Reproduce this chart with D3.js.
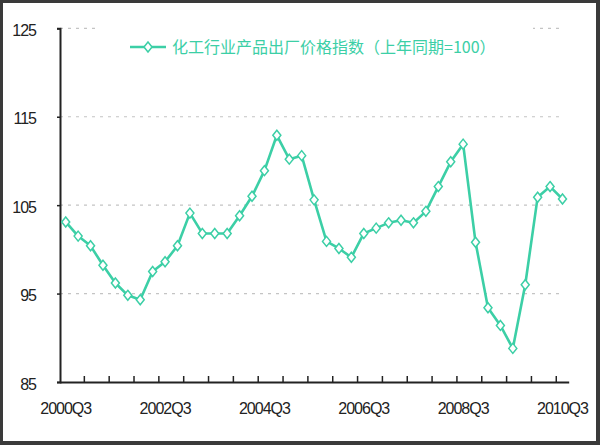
<!DOCTYPE html>
<html><head><meta charset="utf-8">
<script src="https://cdn.jsdelivr.net/npm/d3@7"></script>
<style>
html,body{margin:0;padding:0;background:#fff;}
svg{display:block;}
</style></head>
<body>
<svg id="chart" width="600" height="445"></svg>
<script>
// ---- data ----
const categories = [
 "2000Q3","2000Q4","2001Q1","2001Q2","2001Q3","2001Q4","2002Q1","2002Q2","2002Q3","2002Q4",
 "2003Q1","2003Q2","2003Q3","2003Q4","2004Q1","2004Q2","2004Q3","2004Q4","2005Q1","2005Q2",
 "2005Q3","2005Q4","2006Q1","2006Q2","2006Q3","2006Q4","2007Q1","2007Q2","2007Q3","2007Q4",
 "2008Q1","2008Q2","2008Q3","2008Q4","2009Q1","2009Q2","2009Q3","2009Q4","2010Q1","2010Q2","2010Q3"
];
const values = [
 103.1,101.5,100.4,98.2,96.2,94.8,94.3,97.5,98.6,100.4,
 104.1,101.8,101.8,101.8,103.8,106.0,108.9,112.9,110.2,110.6,
 105.6,100.9,100.1,99.1,101.8,102.4,103.0,103.3,103.0,104.3,
 107.1,109.9,111.9,100.8,93.4,91.4,88.8,96.0,105.9,107.1,105.7
];
const xTickLabels = ["2000Q3","2002Q3","2004Q3","2006Q3","2008Q3","2010Q3"];
const yTicks = [85,95,105,115,125];
const seriesName = "化工行业产品出厂价格指数（上年同期=100）";

// ---- styling ----
const color = "#3ccfa6";
const svg = d3.select("#chart");
const W = 600, H = 445;

svg.append("rect").attr("x",0).attr("y",0).attr("width",W).attr("height",H).attr("fill","#3a3a3a");
svg.append("rect").attr("x",3).attr("y",3).attr("width",593).attr("height",438).attr("fill","#fff");

const x = d3.scaleBand().domain(categories).range([59.5, 568.7]).padding(0);
const y = d3.scaleLinear().domain([85,125]).range([382,28.3]);
const axisX = 60;

// gridlines
svg.append("g").selectAll("line").data(yTicks.filter(v=>v>85)).join("line")
  .attr("x1", axisX).attr("x2", 562)
  .attr("y1", d=>y(d)).attr("y2", d=>y(d))
  .attr("stroke","#c4c4c4").attr("stroke-width",1.2).attr("stroke-dasharray","3,5");

// legend background box (covers top gridline)
svg.append("rect").attr("x",97).attr("y",20).attr("width",436).attr("height",52).attr("fill","#fff");

// y axis
const yAxis = svg.append("g").attr("transform",`translate(${axisX},0)`)
  .call(d3.axisLeft(y).tickValues(yTicks).tickSize(3).tickPadding(21).tickFormat(d3.format("d")));
yAxis.select(".domain").attr("stroke","#222").attr("stroke-width",2);
yAxis.selectAll(".tick line").attr("stroke","#222").attr("stroke-width",1.5);
yAxis.selectAll("text").attr("font-family","Liberation Sans, Arial, sans-serif")
  .attr("font-size",16).attr("letter-spacing","-1px").attr("fill","#222").attr("dy","0.45em");

// x axis
const xAxis = svg.append("g").attr("transform",`translate(0,382)`)
  .call(d3.axisBottom(x).tickValues(xTickLabels).tickSize(0).tickPadding(21));
xAxis.select(".domain").attr("stroke","#222").attr("stroke-width",2);
xAxis.selectAll("text").attr("font-family","Liberation Sans, Arial, sans-serif")
  .attr("font-size",16).attr("letter-spacing","-1px").attr("fill","#222");
// tick marks every 2 categories (between categories), pointing up
const tickCats = categories.filter((c,i)=>i>0 && i%2===0);
svg.append("g").selectAll("line").data(tickCats).join("line")
  .attr("x1", d=>x(d)).attr("x2", d=>x(d))
  .attr("y1", 382).attr("y2", 376)
  .attr("stroke","#222").attr("stroke-width",1.5);

// line
const line = d3.line().x((d,i)=>x(categories[i]) + x.bandwidth()/2).y(d=>y(d));
svg.append("path").datum(values).attr("d", line)
  .attr("fill","none").attr("stroke",color).attr("stroke-width",2.6).attr("stroke-linejoin","round");

const diamond = "M0,-5L4,0L0,5L-4,0Z";
svg.append("g").selectAll("path").data(values).join("path")
  .attr("d", diamond)
  .attr("transform",(d,i)=>`translate(${x(categories[i]) + x.bandwidth()/2},${y(d)})`)
  .attr("fill","#fff").attr("stroke",color).attr("stroke-width",1.5);

// legend
const lg = svg.append("g");
lg.append("line").attr("x1",130).attr("x2",166).attr("y1",47).attr("y2",47)
  .attr("stroke",color).attr("stroke-width",2.6);
lg.append("path").attr("d",diamond).attr("transform","translate(148,47)")
  .attr("fill","#fff").attr("stroke",color).attr("stroke-width",1.5);
lg.append("text").attr("x",172).attr("y",47).attr("dy","0.36em")
  .attr("font-family","Noto Sans CJK SC, sans-serif").attr("font-size",16)
  .attr("fill",color).text(seriesName);
</script>
</body></html>
